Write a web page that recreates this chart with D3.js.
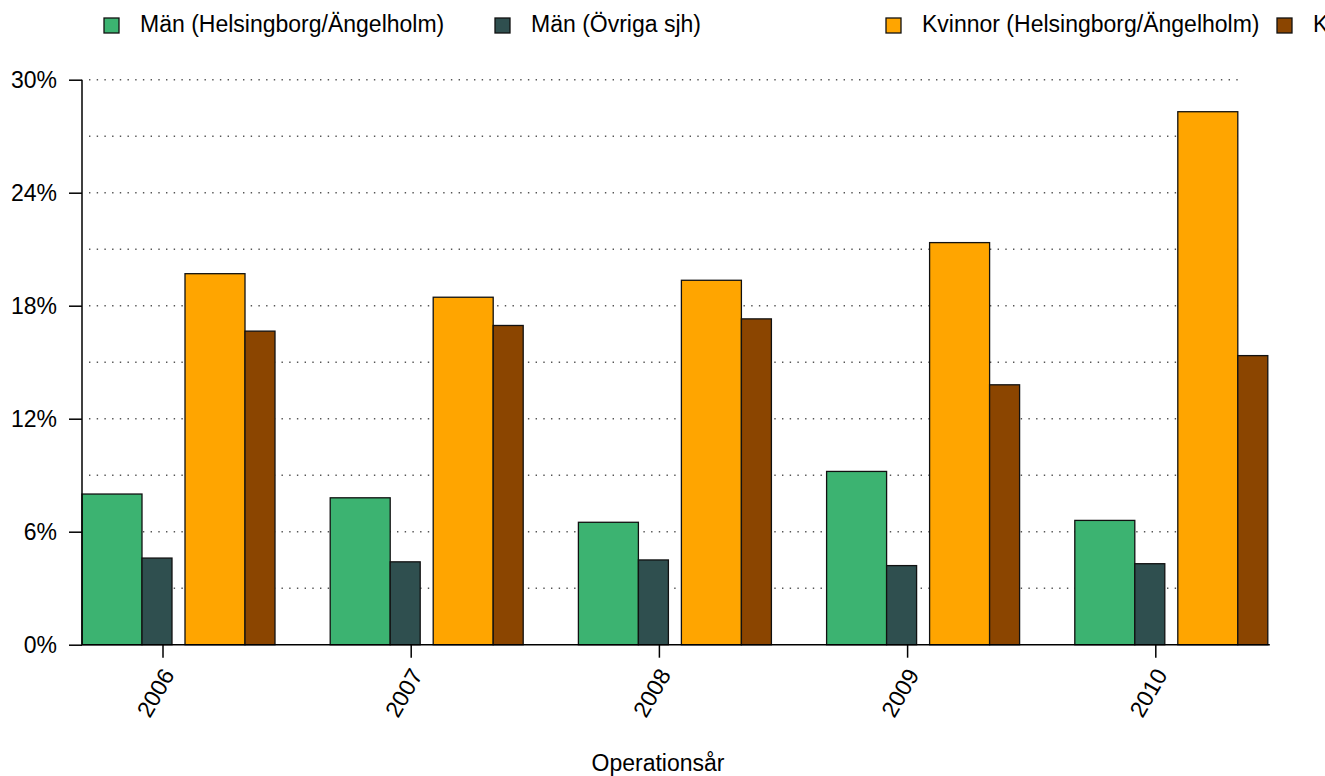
<!DOCTYPE html>
<html><head><meta charset="utf-8">
<script src="https://cdn.jsdelivr.net/npm/d3@7"></script>
<style>
html,body{margin:0;padding:0;background:#fff;}
svg{display:block;font-family:"Liberation Sans",Arial,Helvetica,sans-serif;}
</style></head>
<body>
<svg id="chart" width="1325" height="776"></svg>
<script>
// ---- data ----
const years = ["2006","2007","2008","2009","2010"];
const seriesNames = ["Män (Helsingborg/Ängelholm)","Män (Övriga sjh)","Kvinnor (Helsingborg/Ängelholm)","Kvinnor (Övriga sjh)"];
const menHbg   = [8.0, 7.8, 6.5, 9.2, 6.6];
const menOther = [4.6, 4.4, 4.5, 4.2, 4.3];
const womenHbg = [19.7, 18.45, 19.35, 21.35, 28.3];
const womenOther = [16.65, 16.95, 17.3, 13.8, 15.35];
const yTicks = [0, 6, 12, 18, 24, 30];
const yGrid = [3, 6, 9, 12, 15, 18, 21, 24, 27, 30];
const xTitle = "Operationsår";

// ---- styles / layout ----
const colors = ["#3CB371","#2F4F4F","#FFA500","#8B4500"];
const seriesValues = [menHbg, menOther, womenHbg, womenOther];
// bar offset and width within each year group (px)
const barLayout = [{o:0,w:60},{o:60,w:30},{o:103,w:60},{o:163,w:30}];
const fs = 23;

const svg = d3.select("#chart");
const x = d3.scaleBand().domain(years).range([82, 82 + 5*248.2]).padding(0);
const y = d3.scaleLinear().domain([0, 30]).range([644.7, 79.7]);

// grid
svg.append("g").selectAll("line").data(yGrid).join("line")
  .attr("x1", 89).attr("x2", 1240)
  .attr("y1", d => y(d)).attr("y2", d => y(d))
  .attr("stroke", "#555").attr("stroke-width", 1.4)
  .attr("stroke-dasharray", "1.4,6.3");

// bars
const gBars = svg.append("g");
seriesValues.forEach((vals, si) => {
  gBars.selectAll(null).data(vals.map((v,i)=>({v, yr: years[i]}))).join("rect")
    .attr("x", d => x(d.yr) + barLayout[si].o)
    .attr("width", barLayout[si].w)
    .attr("y", d => y(d.v))
    .attr("height", d => y(0) - y(d.v))
    .attr("fill", colors[si])
    .attr("stroke", "#111").attr("stroke-width", 1.3);
});

// y axis
const yAxis = d3.axisLeft(y).tickValues(yTicks).tickFormat(d => d + "%").tickSize(13).tickPadding(12);
const gy = svg.append("g").attr("transform", "translate(82,0)").call(yAxis);
gy.select(".domain").attr("d", `M0,${y(30)}V${y(0)}`).attr("stroke", "#000").attr("stroke-width", 1.5);
gy.selectAll(".tick line").attr("stroke", "#000").attr("stroke-width", 1.5);
gy.selectAll(".tick text").attr("font-size", fs).attr("fill", "#000")
  .attr("font-family", "Liberation Sans, Arial, sans-serif");

// x baseline
svg.append("line").attr("x1", 82).attr("x2", x(years[4]) + barLayout[3].o + barLayout[3].w + 2)
  .attr("y1", y(0)).attr("y2", y(0)).attr("stroke", "#000").attr("stroke-width", 1.5);

// x ticks + labels
const gx = svg.append("g");
gx.selectAll("line").data(years).join("line")
  .attr("x1", d => x(d) + 81).attr("x2", d => x(d) + 81)
  .attr("y1", y(0)).attr("y2", y(0) + 13)
  .attr("stroke", "#000").attr("stroke-width", 1.5);
gx.selectAll("text").data(years).join("text")
  .attr("transform", d => `translate(${x(d) + 88},${y(0) + 27}) rotate(-60)`)
  .attr("text-anchor", "end").attr("dominant-baseline", "middle")
  .attr("font-size", fs).attr("fill", "#000").text(d => d);

// x title
svg.append("text").attr("x", 658).attr("y", 771).attr("text-anchor", "middle")
  .attr("font-size", fs).attr("fill", "#000").text(xTitle);

// legend
const lg = svg.append("g");
seriesNames.forEach((name, i) => {
  const lx = 104 + i * 391;
  lg.append("rect").attr("x", lx).attr("y", 18).attr("width", 15).attr("height", 15)
    .attr("fill", colors[i]).attr("stroke", "#111").attr("stroke-width", 1.3);
  lg.append("text").attr("x", lx + 36).attr("y", 26).attr("dominant-baseline", "middle")
    .attr("font-size", fs).attr("fill", "#000").text(name);
});
</script>
</body></html>
